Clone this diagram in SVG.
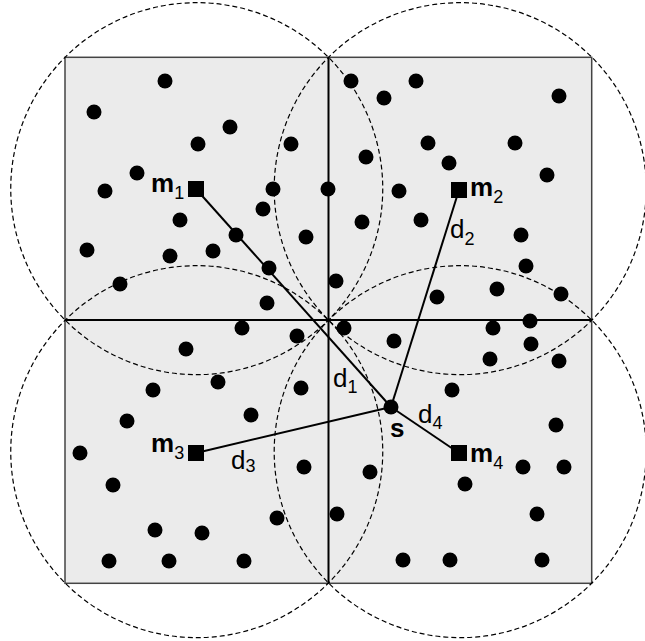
<svg xmlns="http://www.w3.org/2000/svg" width="645" height="641" viewBox="0 0 645 641">
<style>
.bg{fill:#ebebeb;stroke:#444;stroke-width:1.5}
.mid{stroke:#000;stroke-width:2;fill:none}
.range{fill:none;stroke:#000;stroke-width:1.2;stroke-dasharray:5,3}
.dot{fill:#000}
.link{stroke:#000;stroke-width:2;fill:none}
.lbl{font-family:"Liberation Sans",Arial,sans-serif;font-size:26px;fill:#000}
.b{font-weight:bold}
.sub{font-size:18px;font-weight:normal}
</style>
<g id="field">
<rect class="bg" x="65" y="57.3" width="526.7" height="526"/>
<line class="mid" x1="328.5" y1="57.3" x2="328.5" y2="583.3"/>
<line class="mid" x1="65" y1="320" x2="591.7" y2="320"/>
</g>
<g id="ranges">
<circle class="range" cx="196.75" cy="188.65" r="186"/>
<circle class="range" cx="460.2" cy="188.65" r="186"/>
<circle class="range" cx="196.75" cy="451.65" r="186"/>
<circle class="range" cx="460.2" cy="451.65" r="186"/>
</g>
<g id="connectors">
<line class="link" x1="196" y1="189" x2="391" y2="407"/>
<line class="link" x1="459" y1="190" x2="391" y2="407"/>
<line class="link" x1="196" y1="453" x2="391" y2="407"/>
<line class="link" x1="459" y1="453" x2="391" y2="407"/>
</g>
<g id="sensors" class="dot">
<circle cx="165" cy="81" r="7.5"/><circle cx="94" cy="112" r="7.5"/><circle cx="230" cy="127" r="7.5"/><circle cx="198" cy="144" r="7.5"/><circle cx="291" cy="144" r="7.5"/><circle cx="137" cy="173" r="7.5"/><circle cx="105" cy="191" r="7.5"/><circle cx="273" cy="189" r="7.5"/><circle cx="328" cy="189" r="7.5"/><circle cx="263" cy="209" r="7.5"/><circle cx="180" cy="220" r="7.5"/><circle cx="236" cy="235" r="7.5"/><circle cx="306" cy="237" r="7.5"/><circle cx="87" cy="250" r="7.5"/><circle cx="170" cy="256" r="7.5"/><circle cx="213" cy="251" r="7.5"/><circle cx="269" cy="268" r="7.5"/><circle cx="120" cy="284" r="7.5"/><circle cx="267" cy="303" r="7.5"/>
<circle cx="351" cy="81" r="7.5"/><circle cx="416" cy="81" r="7.5"/><circle cx="384" cy="98" r="7.5"/><circle cx="559" cy="96" r="7.5"/><circle cx="428" cy="143" r="7.5"/><circle cx="515" cy="143" r="7.5"/><circle cx="366" cy="157" r="7.5"/><circle cx="449" cy="163" r="7.5"/><circle cx="547" cy="175" r="7.5"/><circle cx="399" cy="191" r="7.5"/><circle cx="362" cy="222" r="7.5"/><circle cx="421" cy="220" r="7.5"/><circle cx="521" cy="235" r="7.5"/><circle cx="526" cy="266" r="7.5"/><circle cx="336" cy="281" r="7.5"/><circle cx="497" cy="289" r="7.5"/><circle cx="437" cy="297" r="7.5"/><circle cx="561" cy="294" r="7.5"/>
<circle cx="242" cy="328" r="7.5"/><circle cx="297" cy="336" r="7.5"/><circle cx="186" cy="349" r="7.5"/><circle cx="218" cy="382" r="7.5"/><circle cx="153" cy="390" r="7.5"/><circle cx="301" cy="388" r="7.5"/><circle cx="251" cy="415" r="7.5"/><circle cx="127" cy="421" r="7.5"/><circle cx="80" cy="453" r="7.5"/><circle cx="304" cy="467" r="7.5"/><circle cx="113" cy="485" r="7.5"/><circle cx="277" cy="518" r="7.5"/><circle cx="155" cy="530" r="7.5"/><circle cx="202" cy="533" r="7.5"/><circle cx="109" cy="561" r="7.5"/><circle cx="169" cy="561" r="7.5"/><circle cx="244" cy="561" r="7.5"/>
<circle cx="344" cy="328" r="7.5"/><circle cx="493" cy="328" r="7.5"/><circle cx="530" cy="321" r="7.5"/><circle cx="394" cy="341" r="7.5"/><circle cx="531" cy="344" r="7.5"/><circle cx="490" cy="359" r="7.5"/><circle cx="559" cy="361" r="7.5"/><circle cx="452" cy="390" r="7.5"/><circle cx="556" cy="425" r="7.5"/><circle cx="370" cy="472" r="7.5"/><circle cx="523" cy="467" r="7.5"/><circle cx="564" cy="467" r="7.5"/><circle cx="465" cy="484" r="7.5"/><circle cx="337" cy="514" r="7.5"/><circle cx="537" cy="514" r="7.5"/><circle cx="403" cy="560" r="7.5"/><circle cx="450" cy="560" r="7.5"/><circle cx="542" cy="560" r="7.5"/>
</g>
<g id="node-s">
<circle class="dot" cx="391" cy="407" r="7.5"/>
<text class="lbl b" x="390" y="437">s</text>
</g>
<g id="node-m1">
<rect x="188" y="181" width="16" height="16" fill="#000"/>
<text class="lbl" x="151" y="192"><tspan class="b">m</tspan><tspan class="sub" dy="7">1</tspan></text>
</g>
<g id="node-m2">
<rect x="451" y="182" width="16" height="16" fill="#000"/>
<text class="lbl" x="470" y="196"><tspan class="b">m</tspan><tspan class="sub" dy="7">2</tspan></text>
</g>
<g id="node-m3">
<rect x="188" y="445" width="16" height="16" fill="#000"/>
<text class="lbl" x="151" y="452"><tspan class="b">m</tspan><tspan class="sub" dy="7">3</tspan></text>
</g>
<g id="node-m4">
<rect x="451" y="445" width="16" height="16" fill="#000"/>
<text class="lbl" x="470" y="462"><tspan class="b">m</tspan><tspan class="sub" dy="7">4</tspan></text>
</g>
<g id="labels">
<text class="lbl" x="333" y="387">d<tspan class="sub" dy="6">1</tspan></text>
<text class="lbl" x="450" y="238">d<tspan class="sub" dy="7">2</tspan></text>
<text class="lbl" x="231" y="469">d<tspan class="sub" dy="3">3</tspan></text>
<text class="lbl" x="418" y="423">d<tspan class="sub" dy="6">4</tspan></text>
</g>
</svg>
